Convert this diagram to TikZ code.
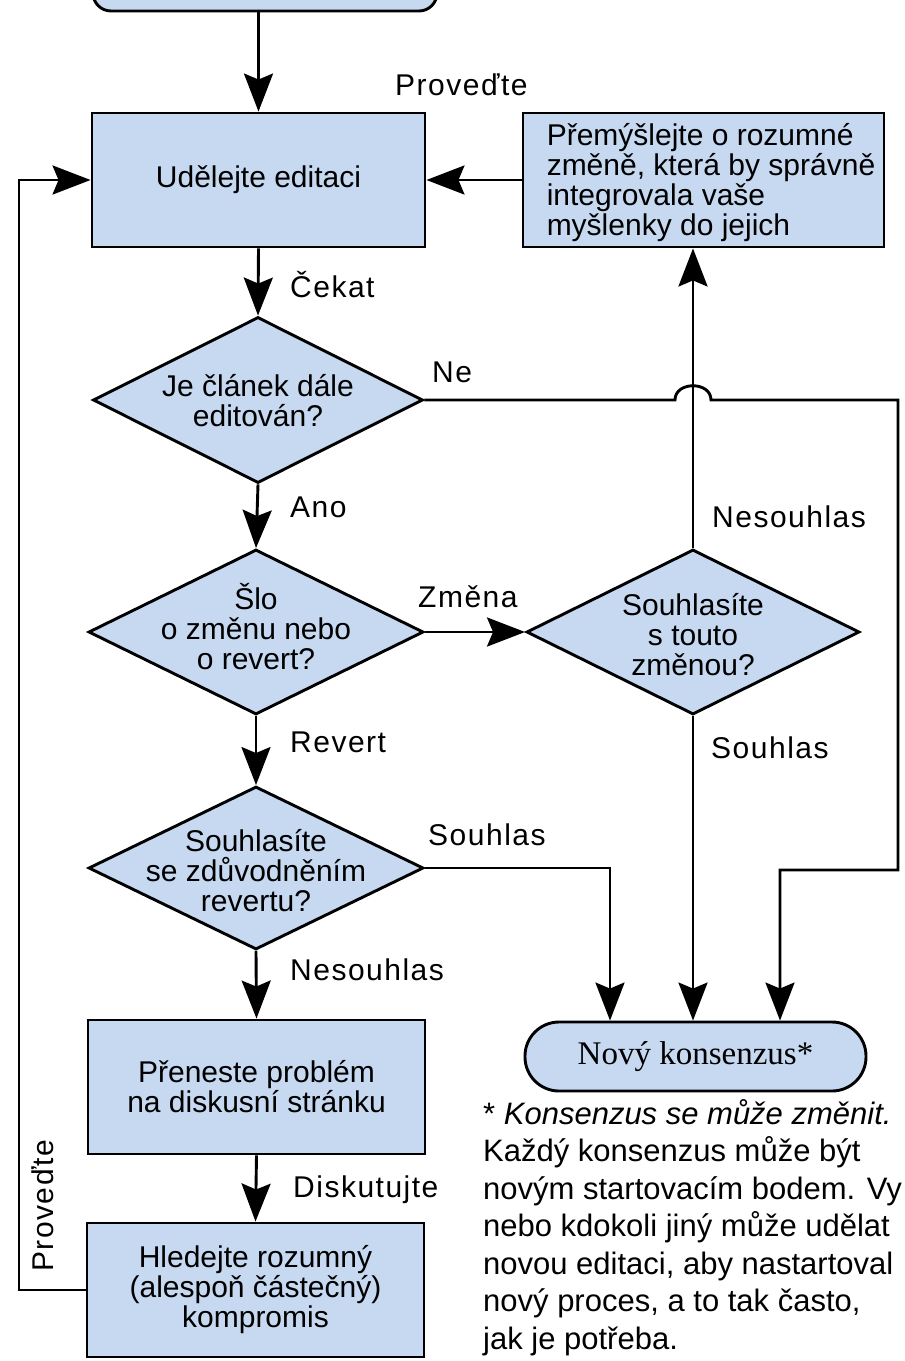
\documentclass[tikz,border=0pt]{standalone}
\usepackage{fontspec}
\setmainfont{Liberation Sans}
\newfontfamily\lblfont{Liberation Sans}[LetterSpace=5]
\newfontfamily\seriffont{Liberation Serif}
\usetikzlibrary{shapes.geometric,arrows.meta}
\definecolor{boxfill}{RGB}{198,217,241}
\begin{document}
\begin{tikzpicture}[x=1pt,y=-1pt,
  every node/.style={inner sep=0pt},
  flow/.style={draw=black, line width=2.9pt, fill=boxfill, align=center,
    font=\fontsize{30pt}{30pt}\selectfont},
  boxnode/.style={flow, rectangle},
  dia/.style={flow, diamond},
  intext/.style={align=center, font=\fontsize{30pt}{30pt}\selectfont},
  lbl/.style={font=\lblfont\fontsize{30pt}{30pt}\selectfont, anchor=base west},
  conn/.style={line width=2.9pt, line join=miter},
  arr/.style={conn, -{Stealth[length=38pt,width=29pt,inset=6pt]}},
]
\clip (0,0) rectangle (905,1361);
\fill[white] (0,0) rectangle (905,1361);

% nodes
\node[boxnode, rounded corners=18pt, minimum width=344pt, minimum height=82pt] (start) at (265,-30) {};
\node[boxnode, minimum width=333pt, minimum height=134pt] (ud) at (258.5,180) {Udělejte editaci};
\node[boxnode, minimum width=361pt, minimum height=134pt,
  label={[intext, align=left, anchor=west, xshift=25pt, yshift=-3pt]west:{Přemýšlejte o rozumné\\změně, která by správně\\integrovala vaše\\myšlenky do jejich}}] (think) at (703.5,180) {};
\node[dia, minimum width=330pt, minimum height=166pt,
  label={[intext, yshift=-1pt]center:{Je článek dále\\editován?}}] (d1) at (258,400) {};
\node[dia, minimum width=335pt, minimum height=165pt,
  label={[intext, yshift=5pt]center:{Šlo\\o změnu nebo\\o revert?}}] (d2) at (256,632) {};
\node[dia, minimum width=333pt, minimum height=165pt,
  label={[intext, yshift=-3pt]center:{Souhlasíte\\s touto\\změnou?}}] (d3) at (693,632) {};
\node[dia, minimum width=335pt, minimum height=163pt,
  label={[intext, yshift=-3pt]center:{Souhlasíte\\se zdůvodněním\\revertu?}}] (d4) at (256,868) {};
\node[boxnode, minimum width=337pt, minimum height=134pt] (pren) at (256.5,1087) {Přeneste problém\\na diskusní stránku};
\node[boxnode, minimum width=337pt, minimum height=134pt] (hled) at (255.5,1290) {Hledejte rozumný\\(alespoň částečný)\\kompromis};
\node[boxnode, rounded corners=34pt, minimum width=341pt, minimum height=69pt,
  font=\seriffont\fontsize{33pt}{33pt}\selectfont] (novy) at (695.5,1056.5) {Nový konsenzus*};

\node[anchor=north west, align=left, font=\fontsize{31pt}{37.5pt}\selectfont] (note) at (483,1099)
  {* \textit{Konsenzus se může změnit.}\\Každý konsenzus může být\\novým startovacím bodem. Vy\\nebo kdokoli jiný může udělat\\novou editaci, aby nastartoval\\nový proces, a to tak často,\\jak je potřeba.};

% helper coordinates
\coordinate (hopL) at (675,400);
\coordinate (hopR) at (711,400);
\coordinate (neR) at (898,400);
\coordinate (neB) at (780,870);
\coordinate (sA) at (610,868);
\coordinate (lpT) at (19,180);

% connectors
\draw[arr] (start.south -| ud.north) -- (ud.north);
\draw[arr] (think.west) -- (ud.east);
\draw[arr] (ud.south) -- (d1.north);
\draw[arr] (d1.south) -- (d2.north);
\draw[arr] (d2.east) -- (d3.west);
\draw[arr] (d3.north) -- (d3.north |- think.south);
\draw[arr] (d3.south) -- (d3.south |- novy.north);
\draw[arr] (d2.south) -- (d4.north);
\draw[arr] (d4.south) -- (pren.north);
\draw[arr] (pren.south) -- (hled.north);
\draw[arr] (d4.east) -- (sA) -- (sA |- novy.north);
\draw[arr] (d1.east) -- (hopL) .. controls (675,381) and (711,381) .. (hopR) -- (neR) |- (neB) -- (neB |- novy.north);
\draw[arr] (hled.west) -| (lpT) -- (ud.west);

% labels
\node[lbl] (lProv) at (395,95) {Proveďte};
\node[lbl] (lCek) at (290,297) {Čekat};
\node[lbl] (lNe) at (432,382) {Ne};
\node[lbl] (lAno) at (290,517) {Ano};
\node[lbl] (lNes1) at (712,527) {Nesouhlas};
\node[lbl] (lZm) at (418,607) {Změna};
\node[lbl] (lRev) at (290,752) {Revert};
\node[lbl] (lSou1) at (711,758) {Souhlas};
\node[lbl] (lSou2) at (428,845) {Souhlas};
\node[lbl] (lNes2) at (290,980) {Nesouhlas};
\node[lbl] (lDis) at (293,1197) {Diskutujte};
\node[lbl, rotate=90] (lProv2) at (53,1272) {Proveďte};
\end{tikzpicture}
\end{document}
